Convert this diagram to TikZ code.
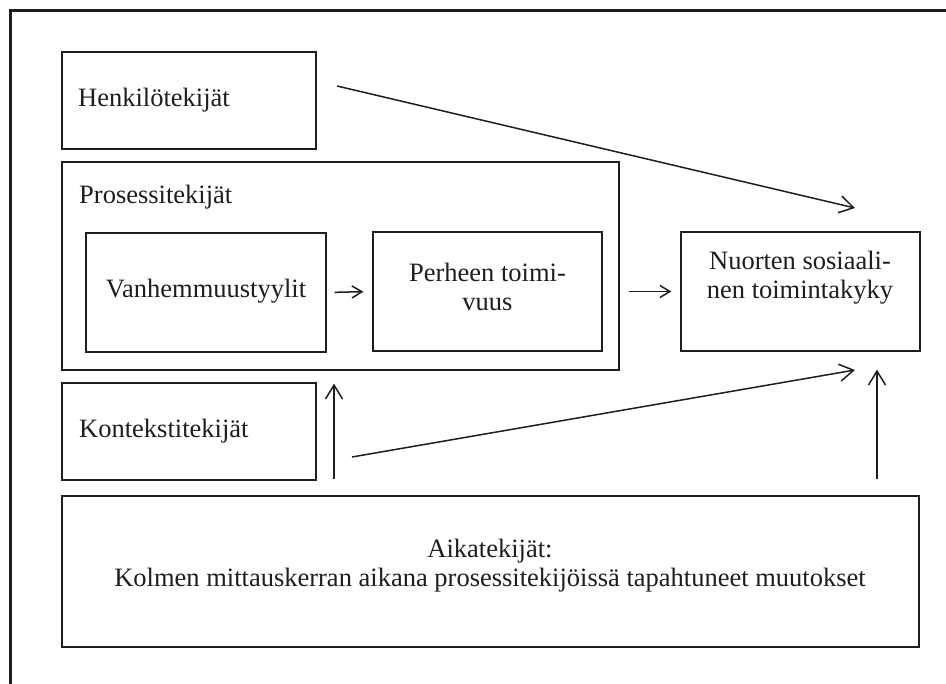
\documentclass[tikz,border=0pt]{standalone}
\usepackage{fontspec}
\setmainfont{Liberation Serif}
\usetikzlibrary{arrows.meta}

\definecolor{ink}{RGB}{30,30,30}

\tikzset{
    box/.style={draw=ink, line width=1.2pt, inner sep=0pt},
    txt/.style={text=ink, inner sep=0pt, align=center},
    arr/.style={draw=ink, line width=1.5pt, -{Straight Barb[length=14pt,width=17pt]}},
    smallarr/.style={draw=ink, line width=1.5pt, -{Straight Barb[length=10pt,width=12pt]}},
    frame/.style={draw=ink, line width=3pt}
}

\begin{document}
\begin{tikzpicture}[x=1pt, y=-1pt, font=\fontsize{26.5}{29}\selectfont]

    \useasboundingbox (0,0) rectangle (946,684);

    % Outer frame (only top and left edge show)
    \draw[frame] (946,10.5) -- (10.5,10.5) -- (10.5,684);

    % Boxes
    \node[box, minimum width=254pt, minimum height=97pt] (henk) at (189,100.5) {};
    \node[box, minimum width=557pt, minimum height=208pt] (pros) at (340.5,266) {};
    \node[box, minimum width=240pt, minimum height=119pt] (vanh) at (206,292.5) {};
    \node[box, minimum width=229pt, minimum height=119pt] (perh) at (487.5,291.5) {};
    \node[box, minimum width=239pt, minimum height=119pt] (nuor) at (800.5,291.5) {};
    \node[box, minimum width=254pt, minimum height=97pt] (kont) at (189,431.5) {};
    \node[box, minimum width=857pt, minimum height=151pt] (aika) at (490.5,571.5) {};

    % Texts
    \node[txt, anchor=base west] (henk-t) at (78,107) {Henkilötekijät};
    \node[txt, anchor=base west] (pros-t) at (79,204) {Prosessitekijät};
    \node[txt, anchor=base] (vanh-t) at (206,298) {Vanhemmuustyylit};
    \node[txt] (perh-t) at (487.5,287) {Perheen toimi-\\vuus};
    \node[txt] (nuor-t) at (800,278) {Nuorten sosiaali-\\nen toimintakyky};
    \node[txt, anchor=base west] (kont-t) at (79,438) {Kontekstitekijät};
    \node[txt] (aika-t) at (490,566) {Aikatekijät:\\Kolmen mittauskerran aikana prosessitekijöissä tapahtuneet muutokset};

    % Free ends and columns of the arrows
    \coordinate (henkout) at (337,86);
    \coordinate (nuortop) at (855,208);
    \coordinate (kontout) at (352,457);
    \coordinate (nuorin) at (855,370);
    \coordinate (lcol) at (334,0);
    \coordinate (rcol) at (877,0);

    % Arrows
    \draw[smallarr, shorten <=8pt, shorten >=9pt] (vanh.east) -- (perh.west);
    \draw[smallarr, shorten <=26pt, shorten >=9pt] (perh.east) -- (nuor.west);
    \draw[arr] (henkout) -- (nuortop);
    \draw[arr] (kontout) -- (nuorin);
    \draw[arr, shorten <=16pt, shorten >=13pt] (aika.north -| lcol) -- (pros.south -| lcol);
    \draw[arr, shorten <=16pt, shorten >=18pt] (aika.north -| rcol) -- (nuor.south -| rcol);

\end{tikzpicture}
\end{document}
